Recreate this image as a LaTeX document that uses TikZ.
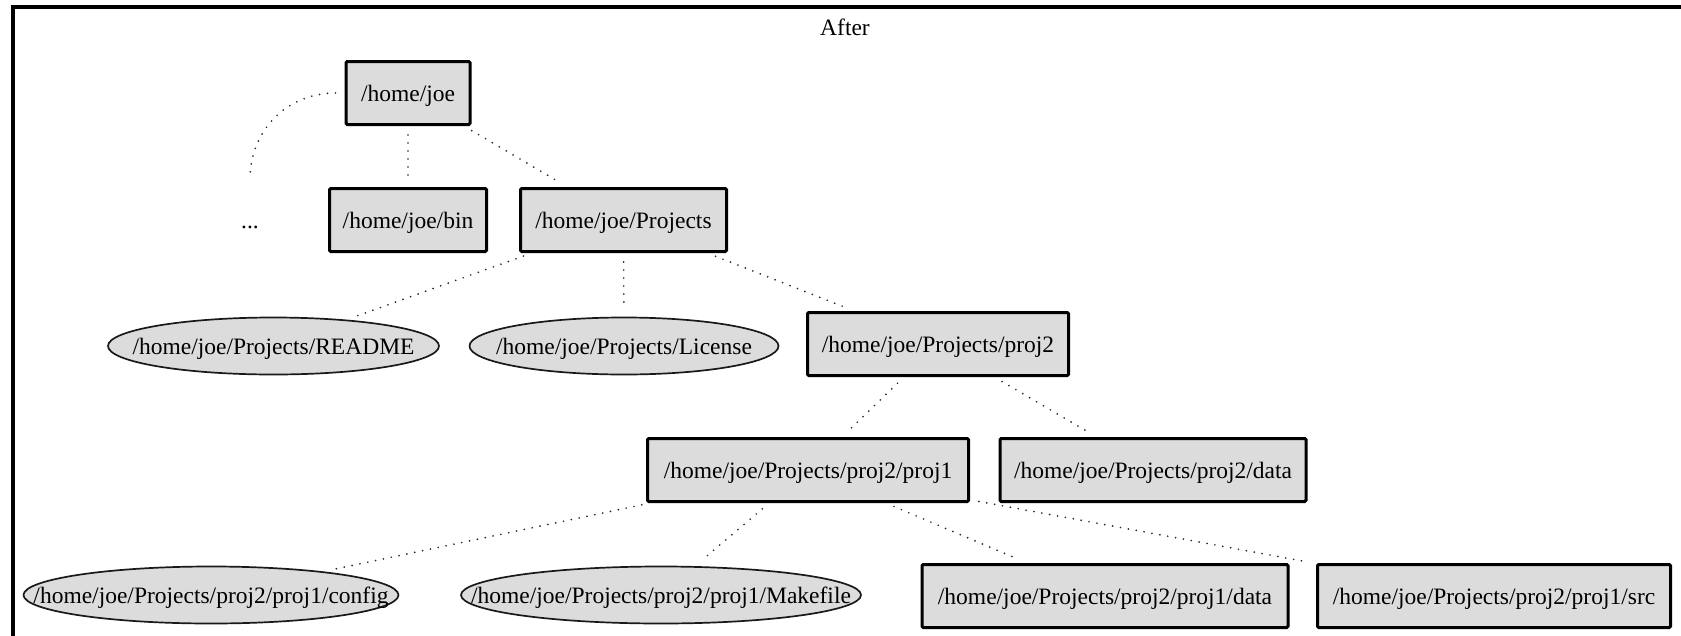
\documentclass[tikz,border=0pt]{standalone}
\usepackage{fontspec}
\setmainfont{Liberation Serif}
\usetikzlibrary{shapes.geometric}
\definecolor{nodegray}{RGB}{220,220,220}
\definecolor{dotgray}{RGB}{40,40,40}
\tikzset{
  lbl/.style={font=\fontsize{23.5}{28}\selectfont, inner sep=0pt, text height=20pt, text depth=4pt},
  dirbox/.style={lbl, draw=black, fill=nodegray, line width=3pt, rounded corners=1.2pt, minimum height=63pt},
  filell/.style={lbl, ellipse, draw=black!90, fill=nodegray, line width=1.7pt, minimum height=57pt},
  plain/.style={lbl, minimum height=63pt, minimum width=30pt},
  edge/.style={draw=dotgray, line width=1.9pt, line cap=round, dash pattern=on 0pt off 8pt, shorten <=9pt, shorten >=9pt},
  frameline/.style={line width=4pt, line join=miter}
}
\begin{document}
\begin{tikzpicture}[x=1pt, y=-1pt]
\useasboundingbox (0,0) rectangle (1681,635);
\draw[frameline] (13,660) -- (13,7) -- (1700,7);
\node[lbl, anchor=base] (title) at (845,35) {After};

\node[dirbox, minimum width=124pt] (joe) at (408,93) {\makebox[0pt]{/home/joe}};
\node[plain] (dots) at (250,220) {\makebox[0pt]{...}};
\node[dirbox, minimum width=157pt] (bin) at (408,220) {\makebox[0pt]{/home/joe/bin}};
\node[dirbox, minimum width=206pt] (proj) at (623.5,220) {\makebox[0pt]{/home/joe/Projects}};

\node[filell, minimum width=331pt] (readme) at (273.5,346) {\makebox[0pt]{/home/joe/Projects/README}};
\node[filell, minimum width=309pt] (license) at (624,346) {\makebox[0pt]{/home/joe/Projects/License}};
\node[dirbox, minimum width=261pt] (proj2) at (938,344) {\makebox[0pt]{/home/joe/Projects/proj2}};

\node[dirbox, minimum width=321pt] (proj1) at (808,470) {\makebox[0pt]{/home/joe/Projects/proj2/proj1}};
\node[dirbox, minimum width=306pt] (p2data) at (1153,470) {\makebox[0pt]{/home/joe/Projects/proj2/data}};

\node[filell, minimum width=375pt] (config) at (211,595) {\makebox[0pt]{/home/joe/Projects/proj2/proj1/config}};
\node[filell, minimum width=400pt] (makefile) at (661,595) {\makebox[0pt]{/home/joe/Projects/proj2/proj1/Makefile}};
\node[dirbox, minimum width=366pt] (p1data) at (1105,596) {\makebox[0pt]{/home/joe/Projects/proj2/proj1/data}};
\node[dirbox, minimum width=353pt] (src) at (1494,596) {\makebox[0pt]{/home/joe/Projects/proj2/proj1/src}};

\draw[edge] (joe) to[out=180, in=90, looseness=1.1] (dots);
\draw[edge] (joe) -- (bin);
\draw[edge] (joe) -- (proj);
\draw[edge] (proj) -- (readme);
\draw[edge] (proj) -- (license);
\draw[edge] (proj) -- (proj2);
\draw[edge] (proj2) -- (proj1);
\draw[edge] (proj2) -- (p2data);
\draw[edge] (proj1) -- (config);
\draw[edge] (proj1) -- (makefile);
\draw[edge] (proj1) -- (p1data);
\draw[edge] (proj1) -- (src);
\end{tikzpicture}
\end{document}
